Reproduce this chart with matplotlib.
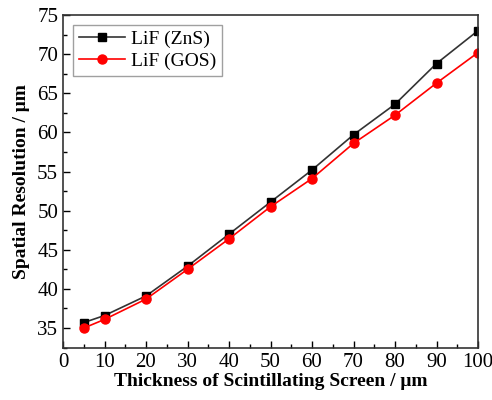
import matplotlib
matplotlib.use("Agg")
import matplotlib.pyplot as plt
from matplotlib.ticker import MultipleLocator

thickness = [5, 10, 20, 30, 40, 50, 60, 70, 80, 90, 100]
zns = [35.7, 36.6, 39.1, 42.9, 47.0, 51.1, 55.2, 59.7, 63.6, 68.8, 73.0]
gos = [35.0, 36.1, 38.7, 42.5, 46.4, 50.5, 54.1, 58.6, 62.2, 66.3, 70.2]

plt.rcParams['font.family'] = ['Liberation Serif', 'DejaVu Serif']
plt.rcParams['mathtext.fontset'] = 'stix'

fig = plt.figure(figsize=(4.92, 4.0), dpi=100)
ax = fig.add_axes([63/492, 52/400, 415/492, 333/400])

ax.plot(thickness, zns, color='#333333', lw=1.2, marker='s', ms=6,
        markerfacecolor='black', markeredgecolor='black', label='LiF (ZnS)')
ax.plot(thickness, gos, color='#ff0000', lw=1.2, marker='o', ms=6.5,
        markerfacecolor='#ff0000', markeredgecolor='#ff0000', label='LiF (GOS)')

ax.set_xlim(0, 100)
ax.set_ylim(32.45, 75)
ax.xaxis.set_major_locator(MultipleLocator(10))
ax.xaxis.set_minor_locator(MultipleLocator(5))
ax.yaxis.set_major_locator(MultipleLocator(5))
ax.yaxis.set_minor_locator(MultipleLocator(2.5))
ax.tick_params(which='both', direction='in', top=False, right=False, labelsize=15)
ax.tick_params(which='major', length=5, width=1)
ax.tick_params(which='minor', length=3, width=1)
for s in ax.spines.values():
    s.set_linewidth(1.2)
    s.set_color('#333333')

ax.set_xlabel('Thickness of Scintillating Screen / μm', fontsize=14, fontweight='bold', labelpad=1)
ax.set_ylabel('Spatial Resolution / μm', fontsize=14, fontweight='bold', labelpad=5)

leg = ax.legend(loc='upper left', fontsize=14, frameon=True, fancybox=False,
                edgecolor='#888888', handlelength=2.4, borderpad=0.3,
                labelspacing=0.2, handletextpad=0.3, borderaxespad=0.5)
leg.get_frame().set_linewidth(1.0)

fig.savefig('out.png', dpi=100)
